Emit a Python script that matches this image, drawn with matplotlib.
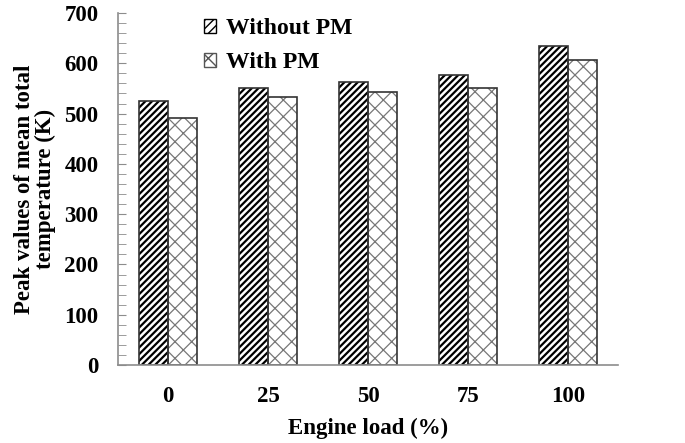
import matplotlib
matplotlib.use("Agg")
import numpy as np
import matplotlib.pyplot as plt
from matplotlib.patches import Patch
from matplotlib.ticker import MultipleLocator

loads = ["0", "25", "50", "75", "100"]
without_pm = [525, 550, 563, 576, 634]
with_pm = [491, 533, 543, 551, 606]

plt.rcParams["font.family"] = ["Liberation Serif", "DejaVu Serif"]
plt.rcParams["font.weight"] = "bold"
plt.rcParams["hatch.linewidth"] = 1.6

fig = plt.figure(figsize=(6.85, 4.43), dpi=100)
ax = fig.add_axes([0.1723, 0.176, 0.730, 0.7947])

x = np.arange(len(loads))
w = 0.29

# hatch drawn first, then a crisp outline on top
ax.bar(x - w / 2, without_pm, w, color="white", edgecolor="black", hatch="/////", linewidth=0)
plt.rcParams["hatch.linewidth"] = 0.9
ax.bar(x + w / 2, with_pm, w, color="white", edgecolor="#777777", hatch="xx", linewidth=0)
plt.rcParams["hatch.linewidth"] = 1.0
ax.bar(x - w / 2, without_pm, w, fill=False, edgecolor="#333333", linewidth=1.2)
ax.bar(x + w / 2, with_pm, w, fill=False, edgecolor="#333333", linewidth=1.2)

ax.set_xlim(-0.5, 4.5)
ax.set_ylim(0, 700)
ax.set_xticks(x)
ax.set_xticklabels(loads)
ax.yaxis.set_major_locator(MultipleLocator(100))
ax.yaxis.set_minor_locator(MultipleLocator(20))

for s in ["top", "right"]:
    ax.spines[s].set_visible(False)
for s in ["left", "bottom"]:
    ax.spines[s].set_color("#8c8c8c")
    ax.spines[s].set_linewidth(1.2)

ax.tick_params(axis="x", length=0, pad=15, labelsize=16.5)
ax.tick_params(axis="y", which="both", direction="in", length=6, color="#8c8c8c",
               labelsize=16.5, pad=14)

ax.set_xlabel("Engine load (%)", fontsize=16.5, fontweight="bold", labelpad=8)
ax.set_ylabel("Peak values of mean total\ntemperature (K)", fontsize=16.5,
              fontweight="bold", labelpad=6, linespacing=1.0)

handles = [
    Patch(facecolor="white", edgecolor="black", hatch="////", label="Without PM"),
    Patch(facecolor="white", edgecolor="#555555", hatch="xx", label="With PM"),
]
ax.legend(handles=handles, loc="upper left", bbox_to_anchor=(0.13, 1.045), frameon=False,
          fontsize=17, handlelength=0.5, handleheight=0.5, handletextpad=0.4,
          labelspacing=0.55)

fig.savefig("out.png", dpi=100)
